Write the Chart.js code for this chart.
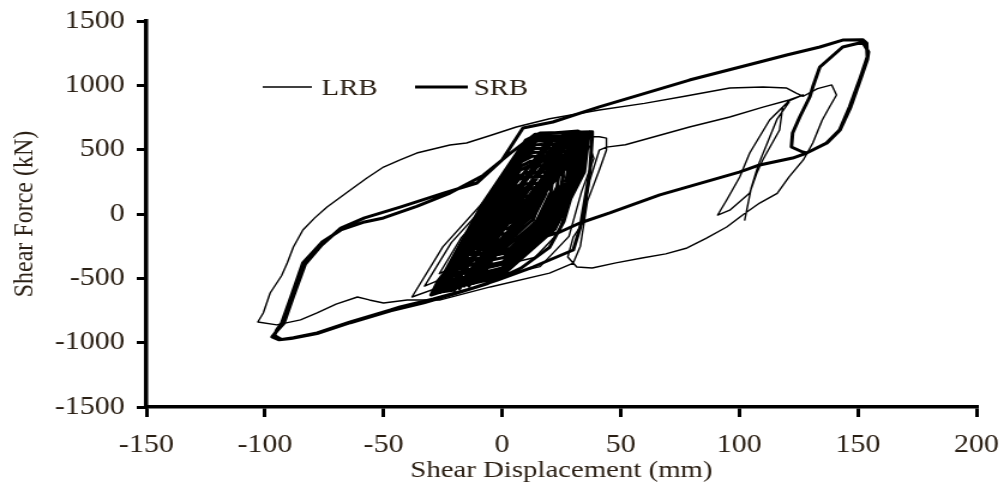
<!DOCTYPE html>
<html>
<head>
<meta charset="utf-8">
<title>Shear force vs shear displacement</title>
<script src="https://cdn.jsdelivr.net/npm/chart.js@4.4.1/dist/chart.umd.min.js"></script>
<style>
  html, body { margin: 0; padding: 0; background: #fff; }
  #wrap { position: relative; width: 1004px; height: 493px; }
  /* drawn at 837px wide and shown at 1004px: the figure is stretched horizontally */
  #hyst { width: 1004px; height: 493px; }
</style>
</head>
<body>
<div id="wrap"><canvas id="hyst" width="837" height="493" style="width:1004px;height:493px"></canvas></div>
<script>
// axis ticks
const xTicks = [-150, -100, -50, 0, 50, 100, 150, 200];
const yTicks = [-1500, -1000, -500, 0, 500, 1000, 1500];

// SRB: [displacement mm, force kN] — small cycles around the origin
const srbCycles = [
  [0, 0],
  [-1, -84], [2.2, 21], [4.9, 95], [5.8, 103], [9.1, 105], [8.8, 60], [6.9, -10], [3.3, -68], [0.4, -80],
  [-3.3, -127], [1.4, 27], [5.3, 124], [6.6, 136], [11.5, 139], [11, 75], [8.2, -17], [2.9, -110], [-1.3, -122],
  [-5.9, -177], [0.4, 33], [5.8, 180], [7.6, 196], [14.2, 199], [13.6, 110], [9.7, -30], [2.5, -147], [-3.2, -170],
  [-8.5, -227], [-0.6, 39], [6.3, 215], [8.6, 236], [16.9, 239], [16.2, 126], [11.2, -39], [2.1, -189], [-5.1, -220],
  [-10.9, -271], [-1.4, 44], [6.7, 264], [9.4, 288], [19.3, 294], [18.4, 159], [12.6, -50], [1.8, -226], [-6.8, -261],
  [-13.2, -315], [-2.2, 50], [7.1, 294], [10.2, 323], [21.7, 328], [20.6, 173], [14.4, -60], [1.4, -262], [-8.5, -302],
  [-15.8, -364], [-3.2, 56], [7.6, 341], [11.2, 374], [24.4, 380], [23.2, 211], [15.4, -70], [1, -306], [-10.4, -348],
  [-17.8, -405], [-3.9, 60], [8, 373], [11.9, 410], [26.4, 416], [25.1, 229], [16.5, -78], [0.7, -338], [-11.8, -386],
  [-19.8, -439], [-4.6, 65], [8.3, 409], [12.6, 448], [28.5, 456], [27, 245], [17.7, -86], [0.4, -372], [-13.3, -428],
  [-21.4, -470], [-5.2, 69], [8.6, 437], [12.9, 480], [30.2, 487], [28.6, 261], [18.6, -93], [0.2, -385], [-14.5, -452],
  [-23, -500], [-5.8, 72], [8.9, 465], [13.8, 510], [31.9, 517], [30.2, 277], [19.6, -100], [-0.1, -420], [-15.7, -491],
  [-24.4, -527], [-6.3, 75], [9.2, 490], [14.3, 539], [33.2, 547], [31.5, 294], [20.3, -107], [-0.3, -440], [-16.6, -504],
  [-25.7, -551], [-6.8, 78], [9.4, 518], [14.8, 568], [34.6, 577], [32.8, 309], [21.1, -111], [-0.5, -461], [-17.6, -530],
  [-26.7, -570], [-7.2, 81], [9.6, 535], [15.1, 586], [35.6, 596], [33.8, 319], [21.7, -115], [-0.6, -476], [-18.3, -547],
  [-27.7, -589], [-7.5, 82], [9.8, 552], [15.5, 605], [36.6, 615], [34.7, 328], [22.2, -119], [-0.8, -492], [-19, -566],
  // narrow, nearly straight cycles along the diagonal
  [-30, -630], [-27, -520], [22, 615], [21, 560], [-26, -610], [-23, -500], [26, 625], [25, 570],
  [-22, -595], [-19, -490], [30, 632], [29, 575], [-18, -580], [-15, -470], [34, 636], [33, 580],
  [-14, -560], [-11, -450], [37, 638], [35, 560], [-12, -540],
  [-9, -430], [20, 620], [19, 560], [-16, -560], [-13, -450], [28, 630], [27, 570], [-8, -470],
  [-5, -360], [33, 636], [31, 560],
  // short reversals in the upper half
  [24, 330], [14, 120], [22, 470], [30, 600], [27, 420], [18, 180], [26, 520], [35, 630], [28, 380],
  [-20, -590],
  [-29, -614], [-8, 86], [10, 575], [16, 630], [38, 640]
];

// SRB: two excursions to the negative side, then loading up to the positive peak
const srbLeftLoops = [
  [38, 600], [37, 330], [33, -100], [30, -280], [13, -412], [-2, -513], [-15, -591], [-29, -660],
  [-43, -722], [-47, -746], [-64, -839], [-78, -925], [-88, -962], [-93, -975], [-96, -945], [-95, -900],
  [-93, -850], [-89, -645], [-84, -381], [-76, -220], [-68, -124], [-58, -62], [-50, -31], [-36, 60],
  [-22, 163], [-8, 300], [4, 480], [14, 620], [32, 645],
  [34, 560], [31, 250], [26, -60], [20, -260], [8, -420], [-6, -540], [-20, -620], [-33, -690],
  [-47, -752], [-64, -845], [-78, -930], [-89, -968], [-94, -978], [-97, -955], [-95, -910], [-92, -850],
  [-88, -640], [-83, -390], [-76, -240], [-68, -110], [-58, -30], [-43, 54], [-25, 160], [-10.6, 241],
  [0, 420], [8.8, 668], [21.4, 715], [41, 832], [79, 1041], [108.6, 1181], [120, 1236], [134, 1298],
  [143.6, 1352], [152, 1355]
];

// SRB: unloading at the positive peak and return along the lower branch
const srbRightLoop = [
  [153.7, 1329], [154, 1220], [150.7, 1041], [146.5, 832], [142.3, 653], [136.8, 552], [128.4, 474],
  [126.7, 482], [122, 521], [122.5, 629], [125.5, 754], [129.7, 909], [131, 987], [134, 1143],
  [143.6, 1298], [152, 1335], [154.5, 1260], [154, 1200], [151, 1041], [147, 832], [142.5, 653],
  [137, 552], [128.4, 474], [122.5, 435], [108.6, 381], [100, 326], [66.5, 148], [45.4, 8],
  [32.8, -70], [24.4, -140], [13, -202], [0, -290], [-8, -350], [-4, -180], [3, 60], [8, 200],
  [6, 90], [0, -40]
];

// LRB: small cycles around the origin
const lrbCycles = [
  [0, 0],
  [-11.4, -226], [-6.8, -90], [-0.2, 46], [5.5, 182], [11.8, 210], [16.7, 212],
  [17.4, 174], [15.3, 70], [13.2, -70], [8.3, -165], [-0.9, -203], [-7.8, -222],
  [-20.3, -355], [-13.1, -141], [-2, 73], [7.8, 286], [17.8, 330], [25.5, 333],
  [26.6, 273], [23.3, 110], [20, -110], [12.3, -259], [-2, -319], [-13, -349],
  [-26.5, -464], [-17.2, -184], [-3.5, 95], [8, 374], [21, 432], [31, 436],
  [32.5, 358], [28.2, 144], [23.9, -144], [13.8, -338], [-4.9, -418], [-19.3, -457],
  [-32.7, -561], [-21.4, -223], [-4.8, 115], [9.1, 452], [24.8, 522], [36.9, 526],
  [38.7, 432], [33.5, 174], [28.2, -174], [16, -409], [-6.6, -505], [-24, -552],
  [-38, -645], [-25, -256], [-6, 132], [10, 520], [28, 600], [41, 600],
  [44, 590], [44, 497], [41, 342], [36, 100], [33, -250], [30, -381], [20, -460], [-5, -567], [-26, -668]
];

// LRB: large loop out to -103 mm and back to the positive peaks
const lrbOuterLoop = [
  [-40, -668], [-50, -692], [-56, -668], [-61, -645], [-70, -700], [-78, -769], [-85, -823], [-95, -862],
  [-103, -839], [-100.7, -769], [-97.8, -614], [-93, -480], [-90.6, -381], [-88, -256], [-84, -124],
  [-79, -30], [-73.8, 55], [-64, 187], [-57, 280], [-50, 365], [-43, 420], [-36, 474], [-22, 536],
  [-15, 552], [-5, 610], [6, 676], [20, 740], [41, 808], [60, 860], [77, 915], [96, 979], [110, 987],
  [120, 979], [124, 940], [127, 915], [133, 975], [139, 1003], [141, 925], [138, 830], [135, 730],
  [131, 552], [127, 420], [121, 288], [116, 160], [108.6, 85], [102, 0], [94.7, -101], [86, -190],
  [78, -264], [69, -310], [59, -342], [48, -380], [38, -420], [31.5, -412], [27.7, -334], [30, -179],
  [34, -70], [37, 264], [41, 497], [44, 520], [52, 538], [60, 579], [79, 676], [96, 754], [110, 830],
  [121, 886], [127, 925]
];

// LRB: final descending branches near 100 mm
const lrbTail = [
  [121, 880], [112.8, 731], [104.4, 474], [100.2, 288], [94.7, 109], [90.9, -8], [96, 30], [104.4, 163],
  [107.4, 319], [109.9, 420], [117, 653], [118.3, 832], [121, 870], [116, 740], [112, 560], [108, 380],
  [105, 200], [102.3, -47]
];

const toPoints = arr => arr.map(([x, y]) => ({ x, y }));
const lrbPath = toPoints([...lrbCycles, ...lrbOuterLoop, ...lrbTail]);
const srbPath = toPoints([...srbCycles, ...srbLeftLoops, ...srbRightLoop]);

const FONT = "'Liberation Serif', 'Times New Roman', serif";
const INK = '#2b2015';

// legend drawn inside the plot, upper left
const inlineLegend = {
  id: 'inlineLegend',
  afterDatasetsDraw(chart, args, opts) {
    const { ctx, chartArea } = chart;
    const x0 = chartArea.left, y0 = chartArea.top + opts.top;
    ctx.save();
    ctx.font = opts.font;
    ctx.fillStyle = opts.color;
    ctx.textBaseline = 'alphabetic';
    ctx.textAlign = 'left';
    chart.data.datasets.forEach((ds, i) => {
      const e = opts.items[i];
      ctx.beginPath();
      ctx.moveTo(x0 + e.from, y0);
      ctx.lineTo(x0 + e.to, y0);
      ctx.lineWidth = ds.borderWidth;
      ctx.strokeStyle = ds.borderColor;
      ctx.stroke();
      ctx.fillText(ds.label, x0 + e.text, y0 + 8);
    });
    ctx.restore();
  }
};

// keep the plot box fixed: labels may spill into the layout padding
const fixX = s => { s.height = 86; s.paddingLeft = 0; s.paddingRight = 0; };
const fixY = s => { s.width = 122; s.paddingTop = 0; s.paddingBottom = 0; };

const tickFont = { family: FONT, size: 25 };
const titleFont = { family: FONT, size: 24 };

new Chart(document.getElementById('hyst'), {
  type: 'scatter',
  data: {
    datasets: [
      {
        label: 'LRB',
        data: lrbPath,
        showLine: true,
        borderColor: '#000',
        borderWidth: 1.4,
        pointRadius: 0,
        pointHitRadius: 0,
        borderJoinStyle: 'round',
        borderCapStyle: 'round'
      },
      {
        label: 'SRB',
        data: srbPath,
        showLine: true,
        borderColor: '#000',
        borderWidth: 3,
        pointRadius: 0,
        pointHitRadius: 0,
        borderJoinStyle: 'round',
        borderCapStyle: 'round'
      }
    ]
  },
  options: {
    responsive: false,
    animation: false,
    devicePixelRatio: 1,
    layout: { padding: { top: 21, right: 23, left: 0, bottom: 0 } },
    plugins: {
      legend: { display: false },
      tooltip: { enabled: false },
      inlineLegend: {
        top: 66,
        font: `24px ${FONT}`,
        color: INK,
        items: [
          { from: 97, to: 138, text: 146 },
          { from: 224, to: 268, text: 273 }
        ]
      }
    },
    scales: {
      x: {
        type: 'linear',
        min: -150,
        max: 200,
        afterBuildTicks: s => { s.ticks = xTicks.map(v => ({ value: v })); },
        afterFit: fixX,
        border: { color: '#000', width: 3.5 },
        grid: { drawOnChartArea: false, color: '#000', lineWidth: 3, tickLength: 10 },
        ticks: { font: tickFont, color: INK, padding: 13, maxRotation: 0, autoSkip: false, callback: v => String(v) },
        title: { display: true, text: 'Shear Displacement (mm)', font: titleFont, color: INK, padding: { top: 0, bottom: 8 } }
      },
      y: {
        type: 'linear',
        min: -1500,
        max: 1500,
        afterBuildTicks: s => { s.ticks = yTicks.map(v => ({ value: v })); },
        afterFit: fixY,
        border: { color: '#000', width: 3.5 },
        grid: { drawOnChartArea: false, color: '#000', lineWidth: 3, tickLength: 8 },
        ticks: { font: tickFont, color: INK, padding: 10, autoSkip: false, callback: v => String(v) },
        title: { display: true, text: 'Shear Force (kN)', font: titleFont, color: INK, padding: { top: 6, bottom: 0 } }
      }
    }
  },
  plugins: [inlineLegend]
});
</script>
</body>
</html>
